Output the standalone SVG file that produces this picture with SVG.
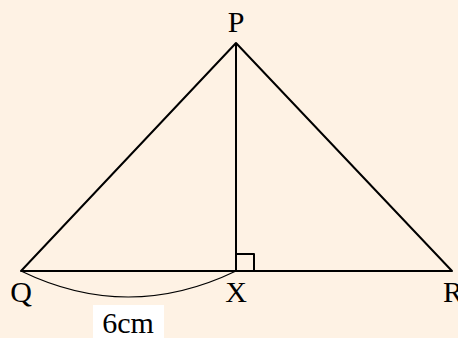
<svg xmlns="http://www.w3.org/2000/svg" width="458" height="338" viewBox="0 0 458 338">
<style>
.lbl{font-family:"Liberation Serif","DejaVu Serif",serif;font-size:30px;fill:#000;text-anchor:middle}
.edge{stroke:#000;stroke-width:2;fill:none;stroke-linejoin:round}
</style>
<rect width="458" height="338" fill="#FEF2E4"/>
<g id="connectors">
<path class="edge" d="M21,271 L236,43 L452,271 Z"/>
<path class="edge" d="M236,43 L236,271"/>
<path class="edge" d="M236,254 L254,254 L254,271" stroke-width="1.2"/>
<path d="M21,271 Q128,323 236,271" stroke="#000" stroke-width="1.2" fill="none"/>
</g>
<g id="P"><text class="lbl" x="236" y="32">P</text></g>
<g id="Q"><text class="lbl" x="21" y="302">Q</text></g>
<g id="X"><text class="lbl" x="236" y="302">X</text></g>
<g id="R"><text class="lbl" x="453" y="302">R</text></g>
<g id="length">
<rect x="93" y="305" width="71" height="33" fill="#fff"/>
<text class="lbl" x="128" y="333">6cm</text>
</g>
</svg>
